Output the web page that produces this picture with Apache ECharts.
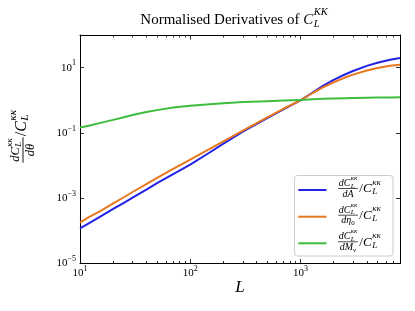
<!DOCTYPE html>
<html><head><meta charset="utf-8">
<script src="https://cdn.jsdelivr.net/npm/echarts@6/dist/echarts.min.js"></script>
<style>html,body{margin:0;padding:0;background:#fff}#c{width:415px;height:311px}</style>
</head><body><div id="c"></div>
<script>
// ---- data ----
const ells = [10, 12, 15, 20, 25, 30, 40, 50, 70, 100, 150, 200, 300, 500, 700, 1000, 1300, 1600, 2000, 2500, 3000, 4000, 5000, 6500, 8000];
const dA = [1.20e-4, 1.70e-4, 2.63e-4, 4.68e-4, 7.24e-4, 1.05e-3, 1.82e-3, 2.88e-3, 5.50e-3, 1.07e-2, 2.51e-2, 4.68e-2, 0.110, 0.282, 0.525, 1.0, 1.76, 2.77, 4.19, 6.05, 7.91, 11.3, 14.2, 17.5, 19.8];
const dEta0 = [1.78e-4, 2.63e-4, 3.89e-4, 6.92e-4, 1.07e-3, 1.55e-3, 2.69e-3, 4.17e-3, 7.94e-3, 1.51e-2, 3.24e-2, 5.50e-2, 0.117, 0.302, 0.550, 1.0, 1.70, 2.48, 3.56, 4.88, 6.11, 8.20, 9.77, 11.4, 12.2];
const dMnu = [0.146, 0.166, 0.200, 0.251, 0.302, 0.355, 0.437, 0.50, 0.60, 0.676, 0.76, 0.81, 0.88, 0.93, 0.98, 1.02, 1.07, 1.11, 1.135, 1.156, 1.175, 1.197, 1.216, 1.227, 1.236];
const xMajor = [10, 100, 1000];
const xMinor = [20, 30, 40, 50, 60, 70, 80, 90, 200, 300, 400, 500, 600, 700, 800, 900, 2000, 3000, 4000, 5000, 6000, 7000];
const yMajor = [1e-5, 1e-3, 1e-1, 10];
const seriesNames = ['A', 'eta0', 'Mnu'];
const colors = ['#2323e6', '#e8781e', '#3cbe3c'];

const SERIF = '"Liberation Serif", "DejaVu Serif", serif';
const mctx = document.createElement('canvas').getContext('2d');
function tw(t, size, italic) { mctx.font = (italic ? 'italic ' : '') + size + 'px ' + SERIF; return mctx.measureText(t).width; }
function txt(t, x, y, size, italic, align) {
  return { type: 'text', x: x, y: y, z: 100, style: { text: t, fontSize: size, fontFamily: SERIF, fontStyle: italic ? 'italic' : 'normal', fill: '#000', align: align || 'left', verticalAlign: 'middle', textAlign: align || 'left', textVerticalAlign: 'middle' } };
}
function mathRun(parts, S, x0, y0) {
  let x = x0; const els = [];
  parts.forEach(p => {
    if (p.t !== undefined) {
      els.push(txt(p.t, x, y0, S, p.i));
      x += tw(p.t, S, p.i) + (p.gap || 0);
    } else {
      const ss = S * 0.7; let w = 0;
      if (p.sup) { els.push(txt(p.sup, x, y0 - 0.52 * S, ss, true)); w = Math.max(w, tw(p.sup, ss, true)); }
      if (p.sub) { els.push(txt(p.sub, x, y0 + (p.sup ? 0.22 : 0.28) * S, ss, !p.subUp)); w = Math.max(w, tw(p.sub, ss, !p.subUp)); }
      x += w;
    }
  });
  return { els: els, w: x - x0 };
}
function runWidth(parts, S) { return mathRun(parts, S, 0, 0).w; }

const graphics = [];
// title
(function () {
  const parts = [{ t: 'Normalised Derivatives of ' }, { t: 'C', i: true, gap: 0.5 }, { sup: 'KK', sub: 'L' }];
  const S = 15; const w = runWidth(parts, S);
  graphics.push(...mathRun(parts, S, 234 - w / 2, 20.5).els);
})();
// x label
graphics.push(txt('L', 240, 287.5, 17, true, 'center'));
// y label (rotated group)
(function () {
  const children = [];
  const num = [{ t: 'dC', i: true, gap: 0.5 }, { sup: 'κκ', sub: 'L' }];
  const Sf = 12.5; const wn = runWidth(num, Sf);
  children.push(...mathRun(num, Sf, -wn / 2, -7).els);
  const den = [{ t: 'dθ', i: true }];
  const wd = runWidth(den, Sf);
  children.push(...mathRun(den, Sf, -wd / 2, 7.5).els);
  const half = wn / 2 + 1;
  children.push({ type: 'line', z: 100, shape: { x1: -half, y1: 0, x2: half, y2: 0 }, style: { stroke: '#000', lineWidth: 0.9 } });
  const rest = [{ t: '/' }, { t: 'C', i: true, gap: 0.5 }, { sup: 'κκ', sub: 'L' }];
  children.push(...mathRun(rest, 16, half + 1, -1.5).els);
  graphics.push({ type: 'group', x: 23, y: 150, rotation: Math.PI / 2, children: children });
})();
// legend (frame, handles, labels)
(function () {
  graphics.push({ type: 'rect', z: 90, shape: { x: 294.5, y: 175.5, width: 98.5, height: 80.5, r: 3 }, style: { fill: 'rgba(255,255,255,0.9)', stroke: '#cccccc', lineWidth: 1 } });
  const dens = [[{ t: 'dA', i: true }], [{ t: 'dη', i: true }, { sub: '0', subUp: true }], [{ t: 'dM', i: true }, { sub: 'ν' }]];
  const cys = [190, 216.7, 243.3];
  cys.forEach((c, k) => {
    graphics.push({ type: 'line', z: 95, shape: { x1: 298.3, y1: c, x2: 326.5, y2: c }, style: { stroke: colors[k], lineWidth: 2 } });
    const num = [{ t: 'dC', i: true, gap: 0.3 }, { sup: 'κκ', sub: 'L' }];
    const S = 10; const wn = runWidth(num, S); const cx = 348;
    graphics.push(...mathRun(num, S, cx - wn / 2, c - 6.5).els);
    const wd = runWidth(dens[k], S);
    graphics.push(...mathRun(dens[k], S, cx - wd / 2, c + 4).els);
    const half = wn / 2 + 0.5;
    graphics.push({ type: 'line', z: 100, shape: { x1: cx - half, y1: c - 1.5, x2: cx + half, y2: c - 1.5 }, style: { stroke: '#000', lineWidth: 0.7 } });
    const rest = [{ t: '/' }, { t: 'C', i: true, gap: 0.5 }, { sup: 'κκ', sub: 'L' }];
    graphics.push(...mathRun(rest, 13, cx + half + 1.5, c - 1).els);
  });
})();

const tickFmt = v => { const e = Math.round(Math.log10(v)); return '{b|10}{s|' + (e < 0 ? '\u2212' + (-e) : e) + '}'; };
const labelRich = { b: { fontSize: 11, fontFamily: SERIF, color: '#000' }, s: { fontSize: 8, fontFamily: SERIF, color: '#000', padding: [0, 0, 9, 0] } };
const lineBlack = { show: true, lineStyle: { color: '#000', width: 1 } };

function xAx(pos, grid, ticks, len, labels) {
  return {
    type: 'log', logBase: 10, min: 10, max: 8000, position: pos, gridIndex: grid,
    axisLine: grid === 0 ? lineBlack : { show: false },
    axisTick: { show: true, inside: true, length: len, customValues: ticks, lineStyle: { color: '#000', width: 0.8 } },
    axisLabel: labels ? { show: true, customValues: xMajor, formatter: tickFmt, rich: labelRich, margin: 1 } : { show: false },
    splitLine: { show: false }, minorTick: { show: false }
  };
}
function yAx(pos, grid, labels, show) {
  return {
    type: 'log', logBase: 10, min: 1e-5, max: 100, position: pos, gridIndex: grid, show: show,
    axisLine: lineBlack,
    axisTick: { show: true, inside: true, length: 4, customValues: yMajor, lineStyle: { color: '#000', width: 0.8 } },
    axisLabel: labels ? { show: true, customValues: yMajor, formatter: tickFmt, rich: labelRich, margin: 4 } : { show: false },
    splitLine: { show: false }, minorTick: { show: false }
  };
}

const chart = echarts.init(document.getElementById('c'), null, { renderer: 'canvas' });
const series = [dA, dEta0, dMnu].map((arr, k) => ({
  name: seriesNames[k], type: 'line', xAxisIndex: 0, yAxisIndex: 0,
  data: ells.map((l, i) => [l, arr[i]]), showSymbol: false, symbol: 'none',
  smooth: false, color: colors[k], lineStyle: { width: 2, color: colors[k], join: 'round' }, z: 3
}));
chart.setOption({
  animation: false,
  backgroundColor: '#fff',
  grid: [
    { left: 80, right: 15, top: 35, bottom: 47.5, containLabel: false },
    { left: 80, right: 15, top: 35, bottom: 47.5, containLabel: false }
  ],
  xAxis: [xAx('bottom', 0, xMajor, 4.5, true), xAx('top', 0, xMajor, 4.5, false), xAx('bottom', 1, xMinor, 2.5, false), xAx('top', 1, xMinor, 2.5, false)],
  yAxis: [yAx('left', 0, true, true), yAx('right', 0, false, true), yAx('left', 1, false, false)],
  series: series,
  graphic: graphics
});
</script></body></html>
